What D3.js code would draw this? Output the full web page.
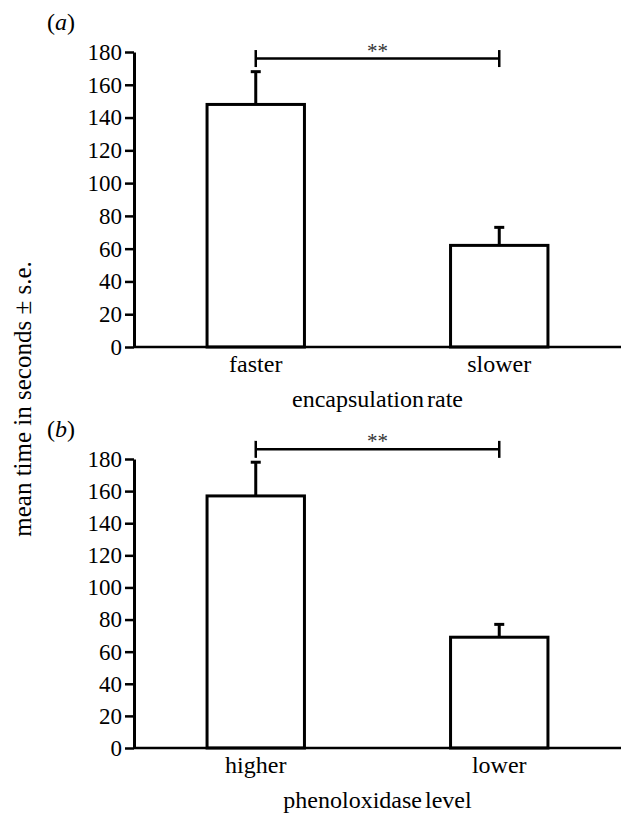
<!DOCTYPE html>
<html>
<head>
<meta charset="utf-8">
<script src="https://cdn.jsdelivr.net/npm/d3@7/dist/d3.min.js"></script>
<style>
body { margin: 0; background: #fff; }
svg { font-family: "Liberation Serif", "Times New Roman", serif; }
</style>
</head>
<body>
<svg width="622" height="814"></svg>
<script>
// panel (a)
var categoriesA = ["faster", "slower"];
var meansA = [148, 62];
var errorsA = [20, 11];
var signifA = 176;

// panel (b)
var categoriesB = ["higher", "lower"];
var meansB = [157, 69];
var errorsB = [21, 8];
var signifB = 186;

var yTicks = [0, 20, 40, 60, 80, 100, 120, 140, 160, 180];
var panelLabels = ["a", "b"];
var xTitles = ["encapsulation rate", "phenoloxidase level"];
var yTitle = "mean time in seconds \u00b1 s.e.";
var starText = "**";

var svg = d3.select("svg");
var left = 134, right = 621;

function drawPanel(cats, means, errs, sig, label, xTitle, top, bottom) {
    var g = svg.append("g");

    var x = d3.scaleBand()
        .domain(cats)
        .range([left, right])
        .paddingInner(0.6)
        .paddingOuter(0.3);

    var y = d3.scaleLinear()
        .domain([0, 180])
        .range([bottom, top]);

    var bw = x.bandwidth();

    // bars
    g.selectAll("rect.bar")
        .data(means)
        .enter()
        .append("rect")
        .attr("class", "bar")
        .attr("x", function (d, i) { return x(cats[i]); })
        .attr("y", function (d) { return y(d); })
        .attr("width", bw)
        .attr("height", function (d) { return y(0) - y(d); })
        .attr("fill", "#fff")
        .attr("stroke", "#000")
        .attr("stroke-width", 3);

    // error bars (upper only)
    g.selectAll("line.err")
        .data(means)
        .enter()
        .append("line")
        .attr("class", "err")
        .attr("x1", function (d, i) { return x(cats[i]) + bw / 2; })
        .attr("x2", function (d, i) { return x(cats[i]) + bw / 2; })
        .attr("y1", function (d) { return y(d); })
        .attr("y2", function (d, i) { return y(d + errs[i]); })
        .attr("stroke", "#000")
        .attr("stroke-width", 3);

    g.selectAll("line.cap")
        .data(means)
        .enter()
        .append("line")
        .attr("class", "cap")
        .attr("x1", function (d, i) { return x(cats[i]) + bw / 2 - 5; })
        .attr("x2", function (d, i) { return x(cats[i]) + bw / 2 + 5; })
        .attr("y1", function (d, i) { return y(d + errs[i]); })
        .attr("y2", function (d, i) { return y(d + errs[i]); })
        .attr("stroke", "#000")
        .attr("stroke-width", 3);

    // significance bracket
    var bx1 = x(cats[0]) + bw / 2, bx2 = x(cats[1]) + bw / 2;
    var by = y(sig);
    g.append("line")
        .attr("x1", bx1).attr("x2", bx2)
        .attr("y1", by).attr("y2", by)
        .attr("stroke", "#000").attr("stroke-width", 2.5);
    [bx1, bx2].forEach(function (bx) {
        g.append("line")
            .attr("x1", bx).attr("x2", bx)
            .attr("y1", by - 8.5).attr("y2", by + 8.5)
            .attr("stroke", "#000").attr("stroke-width", 2.5);
    });
    g.append("text")
        .attr("x", (bx1 + bx2) / 2)
        .attr("y", by - 1)
        .attr("text-anchor", "middle")
        .attr("font-size", 21)
        .attr("fill", "#333")
        .text(starText);

    // x axis (baseline + category labels)
    var xAxis = g.append("g")
        .attr("transform", "translate(0," + y(0) + ")")
        .call(d3.axisBottom(x).tickSize(0).tickPadding(8));
    xAxis.select(".domain")
        .attr("d", "M" + left + ",0H" + right)
        .attr("stroke-width", 2.5);
    xAxis.selectAll("text")
        .attr("font-size", 24)
        .attr("font-family", "Liberation Serif")
        .attr("fill", "#000");

    // y axis
    var yAxis = g.append("g")
        .attr("transform", "translate(" + left + ",0)")
        .call(d3.axisLeft(y).tickValues(yTicks).tickSize(9).tickSizeOuter(0).tickPadding(3));
    yAxis.select(".domain").attr("stroke-width", 3);
    yAxis.selectAll(".tick line").attr("stroke-width", 2.5);
    yAxis.selectAll("text")
        .attr("font-size", 23)
        .attr("font-family", "Liberation Serif")
        .attr("fill", "#000");

    // x title
    g.append("text")
        .attr("x", (left + right) / 2)
        .attr("y", y(0) + 60)
        .attr("text-anchor", "middle")
        .attr("font-size", 24)
        .attr("word-spacing", -3)
        .text(xTitle);

    // panel label
    g.append("text")
        .attr("x", 47)
        .attr("y", top - 22)
        .attr("font-size", 24)
        .html("(<tspan font-style='italic'>" + label + "</tspan>)");
}

drawPanel(categoriesA, meansA, errorsA, signifA, panelLabels[0], xTitles[0], 52, 347);
drawPanel(categoriesB, meansB, errorsB, signifB, panelLabels[1], xTitles[1], 459, 748);

// shared y title
svg.append("text")
    .attr("transform", "translate(31,399) rotate(-90)")
    .attr("text-anchor", "middle")
    .attr("font-size", 25)
    .text(yTitle);
</script>
</body>
</html>
